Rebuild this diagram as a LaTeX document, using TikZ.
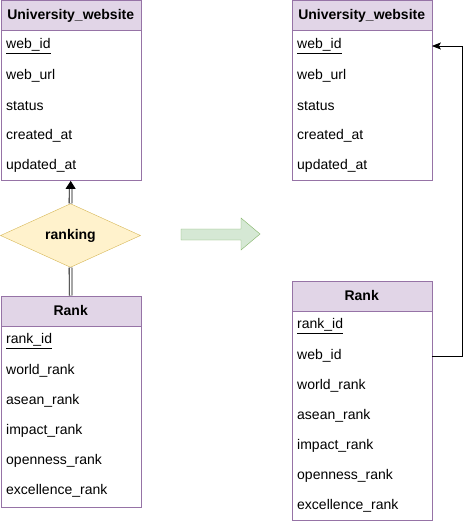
\documentclass[tikz,border=0pt]{standalone}
\usepackage{fontspec}
\setmainfont{Liberation Sans}
\usetikzlibrary{arrows.meta,positioning,shapes.geometric}
\definecolor{erline}{RGB}{150,115,166}
\definecolor{erhead}{RGB}{225,213,231}
\definecolor{relline}{RGB}{214,182,86}
\definecolor{relfill}{RGB}{255,242,204}
\definecolor{goline}{RGB}{130,179,102}
\definecolor{gofill}{RGB}{213,232,212}
\tikzset{
  tablehead/.style={draw=erline, fill=erhead, anchor=north west,
                    minimum width=140pt, minimum height=30pt, inner sep=0pt,
                    font=\fontsize{14}{16}\selectfont\bfseries},
  tablebody/.style={draw=erline, fill=white, anchor=north west,
                    minimum width=140pt, inner sep=0pt},
  field/.style={anchor=west, inner sep=0pt, font=\fontsize{14}{16}\selectfont},
  relation/.style={diamond, draw=relline, fill=relfill, minimum width=140pt,
                   minimum height=61pt, inner sep=0pt,
                   font=\fontsize{14}{16}\selectfont\bfseries},
  dblink/.style={double, double distance=2pt, line width=0.8pt},
  fklink/.style={-{Stealth[length=9pt,width=7pt,inset=2pt]}, line width=0.8pt}
}
\begin{document}
\begin{tikzpicture}[x=1pt, y=-1pt]
  \useasboundingbox (0,0) rectangle (471,521);
  % before: entity + relationship
  \node[tablebody, minimum height=150pt] (uwabody) at (0.5,30.5) {};
  \node[tablehead] (uwa) at (0.5,0.5) {University\_website};
  \node[field] (uwaid) at (6,46) {\underline{web\_id}};
  \node[field] (uwaurl) at (6,76) {web\_url};
  \node[field] (uwastatus) at (6,106) {status};
  \node[field] (uwacreated) at (6,136) {created\_at};
  \node[field] (uwaupdated) at (6,166) {updated\_at};

  \node[relation] (ranking) at (70.5,235.5) {ranking};

  \node[tablebody, minimum height=181pt] (rkabody) at (0.5,325.5) {};
  \node[tablehead] (rka) at (0.5,295.5) {Rank};
  \node[field] (rkaid) at (6,341) {\underline{rank\_id}};
  \node[field] (rkaworld) at (6,371) {world\_rank};
  \node[field] (rkaasean) at (6,401) {asean\_rank};
  \node[field] (rkaimpact) at (6,431) {impact\_rank};
  \node[field] (rkaopen) at (6,461) {openness\_rank};
  \node[field] (rkaexcel) at (6,491) {excellence\_rank};

  \draw[dblink, -{Triangle[length=8pt,width=10pt]}] (ranking.north) -- (uwabody.south);
  \draw[dblink] (ranking.south) -- (rka.north);

  % green arrow
  \draw[draw=goline, fill=gofill] (181,229) -- (241,229) -- (241,218) -- (260,234)
    -- (241,250) -- (241,240) -- (181,240) -- cycle;

  % after: foreign key
  \node[tablebody, minimum height=150pt] (uwbbody) at (291.5,30.5) {};
  \node[tablehead] (uwb) at (291.5,0.5) {University\_website};
  \node[field] (uwbid) at (297,46) {\underline{web\_id}};
  \node[field] (uwburl) at (297,76) {web\_url};
  \node[field] (uwbstatus) at (297,106) {status};
  \node[field] (uwbcreated) at (297,136) {created\_at};
  \node[field] (uwbupdated) at (297,166) {updated\_at};

  \node[tablebody, minimum height=209.5pt] (rkbbody) at (291.5,310.5) {};
  \node[tablehead] (rkb) at (291.5,280.5) {Rank};
  \node[field] (rkbid) at (297,326) {\underline{rank\_id}};
  \node[field] (rkbweb) at (297,356) {web\_id};
  \node[field] (rkbworld) at (297,386) {world\_rank};
  \node[field] (rkbasean) at (297,416) {asean\_rank};
  \node[field] (rkbimpact) at (297,446) {impact\_rank};
  \node[field] (rkbopen) at (297,476) {openness\_rank};
  \node[field] (rkbexcel) at (297,506) {excellence\_rank};

  \draw[fklink] (rkbweb -| rkbbody.east) -- ++(30,0) |- (uwbid -| uwbbody.east);
\end{tikzpicture}
\end{document}
